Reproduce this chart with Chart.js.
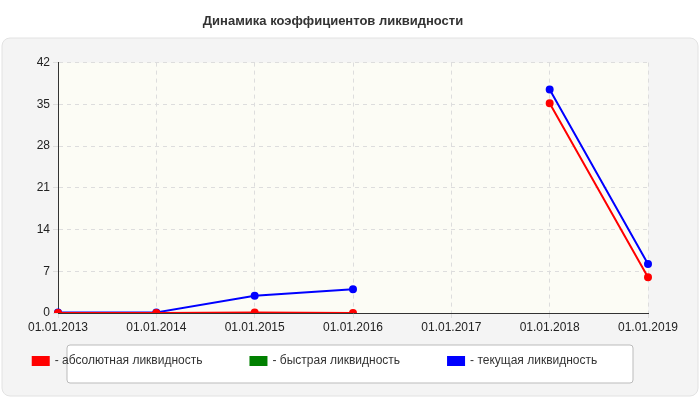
<!DOCTYPE html>
<html><head><meta charset="utf-8">
<script src="https://cdn.jsdelivr.net/npm/chart.js@4"></script>
<style>html,body{margin:0;padding:0;background:#fff}#w{width:700px;height:400px}</style>
</head><body><div id="w"><canvas id="c" width="700" height="400"></canvas></div>
<script>
const categories = ["01.01.2013","01.01.2014","01.01.2015","01.01.2016","01.01.2017","01.01.2018","01.01.2019"];
const absLiq = [0, 0, 0.1, 0, null, 35.2, 6];
const quickLiq = [null, null, null, null, null, null, null];
const curLiq = [0.1, 0.1, 2.9, 4, null, 37.5, 8.2];
const yTicks = [0, 7, 14, 21, 28, 35, 42];

const bgPlugin = {
  id: 'bg',
  beforeDraw(chart) {
    const ctx = chart.ctx, a = chart.chartArea;
    ctx.save();
    ctx.fillStyle = '#f4f4f4';
    ctx.strokeStyle = '#e2e2e2';
    ctx.beginPath();
    ctx.roundRect(2, 38, 696, 358, 8);
    ctx.fill(); ctx.stroke();
    ctx.fillStyle = '#fcfcf5';
    ctx.fillRect(a.left, a.top, a.right - a.left, a.bottom - a.top);
    ctx.fillStyle = '#ffffff';
    ctx.strokeStyle = '#bbbbbb';
    ctx.beginPath();
    ctx.roundRect(67, 345, 566, 38, 3);
    ctx.fill(); ctx.stroke();
    ctx.restore();
  }
};

new Chart(document.getElementById('c'), {
  type: 'line',
  data: {
    labels: categories,
    datasets: [
      {label: '- абсолютная ликвидность', data: absLiq, borderColor: '#ff0000', backgroundColor: '#ff0000'},
      {label: '- быстрая ликвидность', data: quickLiq, borderColor: '#008000', backgroundColor: '#008000'},
      {label: '- текущая ликвидность', data: curLiq, borderColor: '#0000ff', backgroundColor: '#0000ff'}
    ].map(d => Object.assign(d, {borderWidth: 2, pointRadius: 3, pointHoverRadius: 3, tension: 0, spanGaps: false}))
  },
  options: {
    responsive: false, animation: false,
    layout: {padding: {left: 18, right: 52, top: 10, bottom: 23}},
    plugins: {
      title: {display: true, text: 'Динамика коэффициентов ликвидности', color: '#333', font: {family: 'Arial, Liberation Sans', size: 13, weight: 'bold'}, padding: {top: 4, bottom: 33}},
      legend: {position: 'bottom', labels: {boxWidth: 16, boxHeight: 8, padding: 12, color: '#333', font: {family: 'Arial, Liberation Sans', size: 12},
        generateLabels(chart) {
          const items = Chart.defaults.plugins.legend.labels.generateLabels(chart);
          items.forEach(i => { i.text = i.text + '\u2003\u2003\u2003'; });
          return items;
        }}},
      tooltip: {enabled: false}
    },
    scales: {
      x: {
        afterFit(s) { s.height = 30; },
        grid: {color: '#dddddd', tickLength: 5, drawTicks: true},
        border: {color: '#333', dash: [4,4]},
        ticks: {color: '#222', font: {family: 'Arial, Liberation Sans', size: 12}, maxRotation: 0, padding: 2}
      },
      y: {
        min: 0, max: 42,
        afterFit(s) { s.width = 40; },
        afterBuildTicks(s) { s.ticks = yTicks.map(v => ({value: v})); },
        grid: {color: '#dddddd', tickLength: 5},
        border: {color: '#333', dash: [4,4]},
        ticks: {color: '#222', font: {family: 'Arial, Liberation Sans', size: 12}, padding: 3}
      }
    }
  },
  plugins: [bgPlugin]
});
</script></body></html>
